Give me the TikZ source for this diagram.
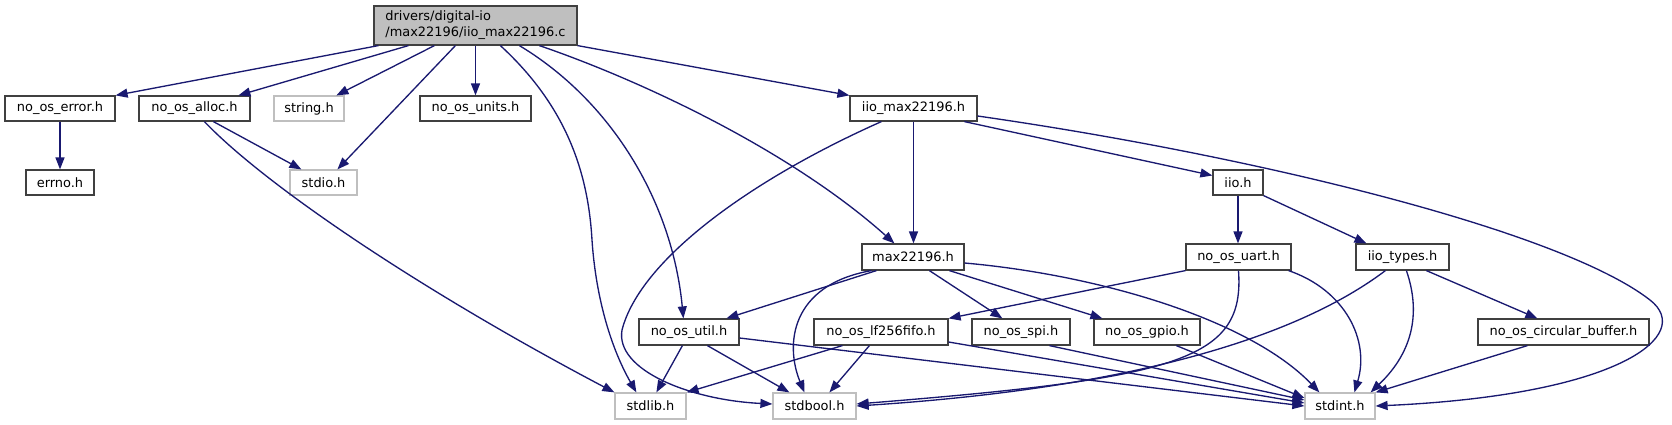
\documentclass[tikz,border=0pt]{standalone}
\usepackage{fontspec}
\setmainfont{DejaVu Sans}
\usetikzlibrary{calc,arrows.meta}
\definecolor{edgeblue}{HTML}{191970}
\definecolor{boxgrey}{HTML}{404040}
\definecolor{sysgrey}{HTML}{BFBFBF}
\begin{document}
\begin{tikzpicture}[x=0.75pt,y=-0.75pt,
  every node/.style={font=\fontsize{9.7}{12}\selectfont, inner sep=0pt, text=black},
  box/.style 2 args={draw=boxgrey, line width=0.9pt, fill=white, minimum width=#1*0.75pt, minimum height=#2*0.75pt},
  sysbox/.style 2 args={draw=sysgrey, line width=0.9pt, fill=white, minimum width=#1*0.75pt, minimum height=#2*0.75pt},
  rootbox/.style 2 args={draw=boxgrey, line width=0.9pt, fill=sysgrey, minimum width=#1*0.75pt, minimum height=#2*0.75pt, align=left},
  edge/.style={draw=edgeblue, line width=1pt, -{Triangle[length=9pt,width=6.75pt]}}
]
\useasboundingbox (0,0) rectangle (1672,425);
% nodes
\node[rootbox={203}{39}] (root) at (475.5,25.5) {drivers/digital-io\\/max22196/iio\_max22196.c};
\node[box={110}{25}] (err) at (60,108.5) {no\_os\_error.h};
\node[box={111}{25}] (alloc) at (194.5,108.5) {no\_os\_alloc.h};
\node[sysbox={70}{25}] (string) at (309,108.5) {string.h};
\node[box={111}{25}] (units) at (475.5,108.5) {no\_os\_units.h};
\node[box={127}{25}] (iiomax) at (913.5,108.5) {iio\_max22196.h};
\node[box={68}{25}] (errno) at (60,182.5) {errno.h};
\node[sysbox={67}{25}] (stdio) at (323.5,182.5) {stdio.h};
\node[box={50}{25}] (iio) at (1238,182.5) {iio.h};
\node[box={102}{26}] (max) at (913,257) {max22196.h};
\node[box={105}{26}] (uart) at (1238.5,257) {no\_os\_uart.h};
\node[box={93}{26}] (types) at (1402.5,257) {iio\_types.h};
\node[box={100}{26}] (util) at (689,332) {no\_os\_util.h};
\node[box={134}{26}] (lf) at (881,332) {no\_os\_lf256fifo.h};
\node[box={98}{26}] (spi) at (1021,332) {no\_os\_spi.h};
\node[box={106}{26}] (gpio) at (1147,332) {no\_os\_gpio.h};
\node[box={171}{26}] (circ) at (1563.5,332) {no\_os\_circular\_buffer.h};
\node[sysbox={71}{26}] (stdlib) at (650.5,406) {stdlib.h};
\node[sysbox={83}{26}] (stdbool) at (814.5,406) {stdbool.h};
\node[sysbox={70}{26}] (stdint) at (1340,406) {stdint.h};
% edges from root
\draw[edge] ($(root.south west)+(5,0)$) -- (err.north east);
\draw[edge] ($(root.south west)+(35,0)$) -- ($(alloc.north west)+(100,0)$);
\draw[edge] ($(root.south west)+(61,0)$) -- ($(string.north west)+(63,0)$);
\draw[edge] ($(root.south west)+(82,0)$) -- ($(stdio.north west)+(48,0)$);
\draw[edge] (root.south) -- (units.north);
\draw[edge] ($(root.south west)+(127,0)$) .. controls (565,105) and (588,170) .. (592,240) .. controls (596,300) and (612,350) .. ($(stdlib.north west)+(22,0)$);
\draw[edge] ($(root.south west)+(146,0)$) .. controls (610,100) and (672,200) .. ($(util.north west)+(45,0)$);
\draw[edge] ($(root.south west)+(166,0)$) .. controls (640,80) and (790,150) .. ($(max.north west)+(33,0)$);
\draw[edge] (root.south east) -- (iiomax.north west);
% no_os_error / alloc
\draw[edge] (err.south) -- (errno.north);
\draw[edge] ($(alloc.south west)+(75,0)$) -- ($(stdio.north west)+(12,0)$);
\draw[edge] ($(alloc.south west)+(66,0)$) .. controls (265,185) and (420,290) .. (stdlib.north west);
% iio_max22196.h
\draw[edge] (iiomax.south) -- (iiomax.south |- max.north);
\draw[edge] ($(iiomax.south west)+(115,0)$) -- ($(iio.west)+(0,-7)$);
\draw[edge] ($(iiomax.south west)+(32,0)$) .. controls (750,180) and (640,260) .. (622,330) .. controls (615,370) and (690,400) .. ($(stdbool.west)+(0,-2)$);
\draw[edge] ($(iiomax.east)+(0,7.5)$) .. controls (1250,155) and (1560,230) .. (1650,300) .. controls (1695,335) and (1620,395) .. (stdint.east);
% iio.h
\draw[edge] (iio.south) -- (iio.south |- uart.north);
\draw[edge] (iio.south east) -- ($(types.north west)+(11,0)$);
% max22196.h
\draw[edge] ($(max.south west)+(15,0)$) -- ($(util.north west)+(88,0)$);
\draw[edge] ($(max.south west)+(10,0)$) .. controls (790,285) and (785,345) .. ($(stdbool.north west)+(32,0)$);
\draw[edge] ($(max.south west)+(68,0)$) -- ($(spi.north west)+(31,0)$);
\draw[edge] ($(max.south west)+(88,0)$) -- ($(gpio.north west)+(9,0)$);
\draw[edge] ($(max.east)+(0,6)$) .. controls (1100,275) and (1250,320) .. ($(stdint.north west)+(15,0)$);
% no_os_uart.h
\draw[edge] (uart.south west) -- (lf.north east);
\draw[edge] (uart.south) .. controls (1245,360) and (1180,378) .. ($(stdbool.east)+(0,-2)$);
\draw[edge] ($(uart.south east)+(-3,0)$) .. controls (1345,290) and (1370,340) .. ($(stdint.north west)+(50,0)$);
% iio_types.h
\draw[edge] ($(types.south west)+(30,0)$) .. controls (1320,320) and (1180,385) .. (stdbool.east);
\draw[edge] ($(types.south west)+(51,0)$) .. controls (1420,310) and (1415,350) .. ($(stdint.north east)+(-5,0)$);
\draw[edge] ($(types.south west)+(71,0)$) -- ($(circ.north west)+(60,0)$);
% row 4
\draw[edge] ($(circ.south west)+(50,0)$) -- (stdint.north east);
\draw[edge] ($(gpio.south west)+(83,0)$) -- ($(stdint.west)+(0,-8)$);
\draw[edge] ($(spi.south west)+(78,0)$) -- ($(stdint.west)+(0,-6)$);
\draw[edge] ($(lf.east)+(0,10)$) -- ($(stdint.west)+(0,-3)$);
\draw[edge] ($(util.east)+(0,6)$) -- (stdint.west);
\draw[edge] ($(lf.south west)+(29,0)$) -- (stdlib.north east);
\draw[edge] ($(lf.south west)+(56,0)$) -- ($(stdbool.north west)+(57,0)$);
\draw[edge] ($(util.south west)+(44,0)$) -- ($(stdlib.north west)+(42,0)$);
\draw[edge] ($(util.south west)+(69,0)$) -- ($(stdbool.north west)+(17,0)$);
\end{tikzpicture}
\end{document}
